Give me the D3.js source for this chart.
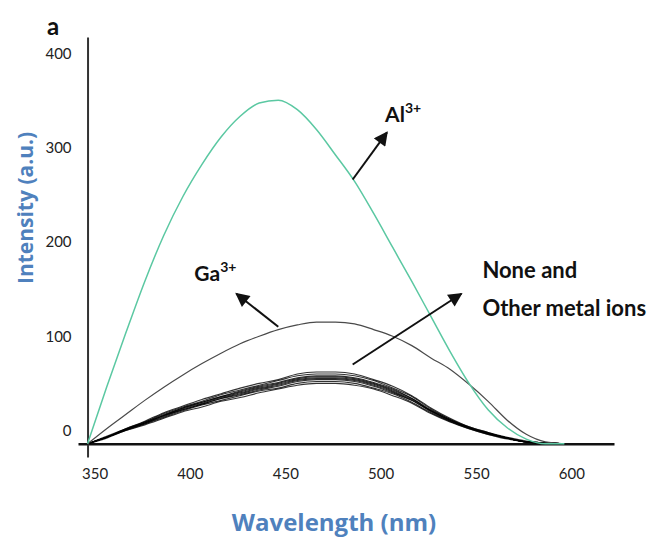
<!DOCTYPE html>
<html>
<head>
<meta charset="utf-8">
<script src="https://cdn.jsdelivr.net/npm/d3@7"></script>
<style>
  body { margin: 0; background: #fff; }
  svg { display: block; }
  .tick text { font-family: Lato, "Open Sans", sans-serif; font-size: 15px; fill: #222; }
  .ann { font-family: Lato, "Open Sans", sans-serif; font-weight: 700; fill: #111; }
  .axis-title { font-family: "Open Sans", Lato, sans-serif; font-weight: 700; fill: #4f81bd; }
</style>
</head>
<body>
<svg id="chart"></svg>
<script>
// Data (wavelength in nm, intensity in a.u.)
const wavelengths = [350, 360, 370, 380, 390, 400, 410, 420, 430, 440, 450, 460, 470,
  480, 490, 500, 510, 520, 530, 540, 550, 560, 570, 580, 590, 600];

const alValues = [0, 60, 117, 172, 221, 262, 296, 325, 347, 361, 364, 354, 333,
  306, 278, 244, 208, 172, 135, 98, 64, 36, 17, 5, 0, 0];

const gaValues = [0, 16, 31, 46, 60, 73, 85, 96, 106, 114, 121, 126, 129,
  129, 127, 121, 114, 104, 91, 79, 63, 45, 25, 10, 2, 0];

// "None and other metal ions" - bundle of near-identical spectra
const otherValues = [
  [0, 8, 16, 24, 33, 40, 47, 53, 59, 64, 68, 74, 76, 76, 74, 68, 61, 51, 38, 27, 18, 12, 7, 3, 1, 0],
  [0, 7, 16, 23, 32, 39, 45, 52, 57, 62, 67, 72, 74, 74, 72, 67, 59, 50, 37, 26, 18, 12, 6, 2, 1, 0],
  [0, 7, 15, 23, 31, 38, 44, 50, 56, 61, 65, 70, 72, 72, 70, 65, 58, 48, 36, 26, 17, 11, 6, 2, 1, 0],
  [0, 7, 15, 22, 30, 38, 44, 50, 55, 60, 64, 69, 71, 71, 69, 64, 57, 48, 35, 25, 17, 11, 6, 2, 1, 0],
  [0, 7, 15, 22, 30, 37, 43, 49, 54, 59, 63, 68, 70, 70, 68, 63, 56, 47, 35, 25, 17, 11, 6, 2, 1, 0],
  [0, 7, 15, 22, 30, 36, 42, 48, 53, 58, 62, 67, 69, 69, 67, 62, 55, 46, 35, 25, 17, 11, 6, 2, 1, 0],
  [0, 7, 15, 21, 29, 36, 42, 48, 52, 57, 61, 66, 68, 68, 66, 61, 54, 46, 34, 24, 17, 11, 6, 2, 1, 0],
  [0, 7, 14, 21, 28, 35, 41, 46, 51, 56, 59, 64, 66, 66, 64, 59, 53, 44, 33, 24, 16, 10, 6, 2, 1, 0],
  [0, 6, 14, 20, 27, 34, 39, 45, 49, 54, 58, 62, 64, 64, 62, 58, 51, 43, 32, 23, 16, 10, 5, 2, 1, 0],
];

const xTicks = [350, 400, 450, 500, 550, 600];
const yTicks = [0, 100, 200, 300, 400];

// Arrows in data units: [fromNm, fromVal, toNm, toVal]
const arrows = [
  [489, 280, 507, 330],
  [450, 124, 428, 159],
  [489, 84, 546, 159],
];

// Chart dimensions
const width = 653;
const height = 538;

const svg = d3.select("#chart").attr("width", width).attr("height", height);

const x = d3.scaleLinear().domain([345, 626]).range([78, 614]);
const y = d3.scaleLinear().domain([-14, 431]).range([457, 37]);

// Arrow head
svg.append("defs")
  .append("marker")
  .attr("id", "head")
  .attr("viewBox", "0 0 10 10")
  .attr("refX", 9)
  .attr("refY", 5)
  .attr("markerUnits", "userSpaceOnUse")
  .attr("markerWidth", 15)
  .attr("markerHeight", 14)
  .attr("orient", "auto")
  .append("path")
  .attr("d", "M0,0 L10,5 L0,10 z")
  .attr("fill", "#111");

// Axes
const xAxis = svg.append("g")
  .attr("transform", `translate(0,${y(0)})`)
  .call(d3.axisBottom(x).tickValues(xTicks).tickSize(0).tickSizeOuter(0).tickPadding(25));
xAxis.select(".domain").attr("stroke", "#111").attr("stroke-width", 2.5);
xAxis.selectAll(".tick text").attr("dx", 7);

const yAxis = svg.append("g")
  .attr("transform", `translate(${x(350)},0)`)
  .call(d3.axisLeft(y).tickValues(yTicks).tickSize(0).tickSizeOuter(0).tickPadding(16));
yAxis.select(".domain").attr("stroke", "#333").attr("stroke-width", 2);
yAxis.selectAll(".tick text").attr("dy", "-0.55em");

// Lines
const line = d3.line()
  .x((d, i) => x(wavelengths[i]))
  .y((d) => y(d))
  .curve(d3.curveMonotoneX);

svg.append("g")
  .selectAll("path")
  .data(otherValues)
  .join("path")
  .attr("d", line)
  .attr("fill", "none")
  .attr("stroke", "#000")
  .attr("stroke-width", 1.1)
  .attr("stroke-opacity", 0.8);

svg.append("path")
  .attr("d", line(gaValues))
  .attr("fill", "none")
  .attr("stroke", "#4a4a4a")
  .attr("stroke-width", 1.2);

svg.append("path")
  .attr("d", line(alValues))
  .attr("fill", "none")
  .attr("stroke", "#5bc8a2")
  .attr("stroke-width", 1.5);

// Arrows
svg.append("g")
  .selectAll("line")
  .data(arrows)
  .join("line")
  .attr("x1", (d) => x(d[0]))
  .attr("y1", (d) => y(d[1]))
  .attr("x2", (d) => x(d[2]))
  .attr("y2", (d) => y(d[3]))
  .attr("stroke", "#111")
  .attr("stroke-width", 2)
  .attr("marker-end", "url(#head)");

// Labels
function ionLabel(nm, val, base, charge) {
  const t = svg.append("text")
    .attr("class", "ann")
    .attr("x", x(nm))
    .attr("y", y(val))
    .attr("font-size", 21);
  t.append("tspan").text(base);
  t.append("tspan").attr("dy", -9).attr("font-size", 14).text(charge);
}
ionLabel(506, 341, "Al", "3+");
ionLabel(406, 173, "Ga", "3+");

svg.append("text").attr("class", "ann").attr("font-weight", 600)
  .attr("x", x(557)).attr("y", y(176)).attr("font-size", 22).text("None and");
svg.append("text").attr("class", "ann").attr("font-weight", 600)
  .attr("x", x(557)).attr("y", y(135)).attr("font-size", 22).text("Other metal ions");

svg.append("text").attr("class", "ann")
  .attr("x", 47).attr("y", 35).attr("font-size", 24).text("a");

// Axis titles
svg.append("text").attr("class", "axis-title")
  .attr("x", 334).attr("y", 531).attr("text-anchor", "middle")
  .attr("font-size", 24).text("Wavelength (nm)");

svg.append("text").attr("class", "axis-title")
  .attr("transform", "translate(33,208) rotate(-90)")
  .attr("text-anchor", "middle")
  .attr("font-size", 21).attr("font-weight", 600).text("Intensity (a.u.)");
</script>
</body>
</html>
